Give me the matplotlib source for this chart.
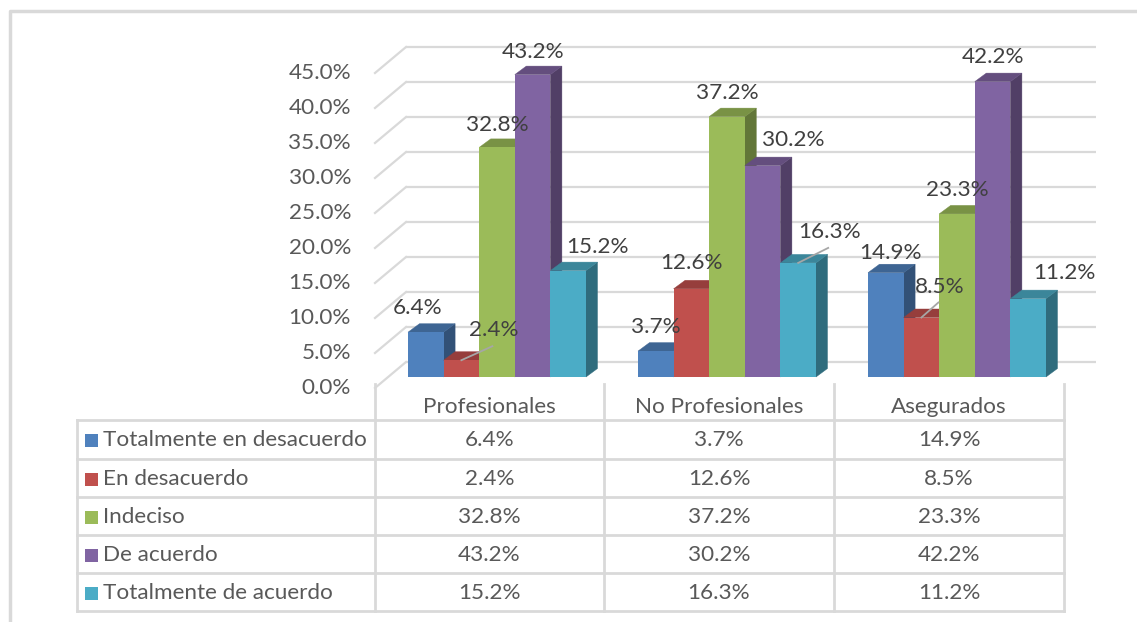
import matplotlib
matplotlib.use("Agg")
import matplotlib.pyplot as plt
from matplotlib.patches import Polygon, Rectangle
import numpy as np

# ---------------- data ----------------
categories = ["Profesionales", "No Profesionales", "Asegurados"]
series_names = ["Totalmente en desacuerdo", "En desacuerdo", "Indeciso",
                "De acuerdo", "Totalmente de acuerdo"]
tot_desacuerdo = [6.4, 3.7, 14.9]
en_desacuerdo = [2.4, 12.6, 8.5]
indeciso = [32.8, 37.2, 23.3]
de_acuerdo = [43.2, 30.2, 42.2]
tot_acuerdo = [15.2, 16.3, 11.2]
y_ticks = [0, 5, 10, 15, 20, 25, 30, 35, 40, 45]

series_values = [tot_desacuerdo, en_desacuerdo, indeciso, de_acuerdo, tot_acuerdo]

# ---------------- style ----------------
colors = ["#4F81BD", "#C0504D", "#9BBB59", "#8064A2", "#4BACC6"]
FONT = ["Lato", "DejaVu Sans"]
plt.rcParams["font.family"] = FONT
FS = 16.2
AX_COL = "#595959"
LBL_COL = "#404040"
GRID_COL = "#D9D9D9"

W, H = 1137, 622
fig = plt.figure(figsize=(W / 100, H / 100), dpi=100)

# main axes geometry in pixels
PX_X0 = 375.0      # front floor left (x=0)
PX_PER_X = 230.0   # pixels per category
PX_Y0 = 377.0      # bar front plane baseline (y=0)
PX_PER_Y = 7.0     # pixels per percent
ax_l, ax_r, ax_t, ax_b = 300, 1110, 30, 392
ax = fig.add_axes([ax_l / W, 1 - ax_b / H, (ax_r - ax_l) / W, (ax_b - ax_t) / H])
ax.set_xlim((ax_l - PX_X0) / PX_PER_X, (ax_r - PX_X0) / PX_PER_X)
ax.set_ylim((PX_Y0 - ax_b) / PX_PER_Y, (PX_Y0 - ax_t) / PX_PER_Y)
ax.axis("off")

PXX = 1 / PX_PER_X
PXY = 1 / PX_PER_Y

y_ff = -11 * PXY          # front floor level
dx_w, dy_w = 31 * PXX, 26 * PXY   # wall depth
dxb, dyb = 11.5 * PXX, 8.5 * PXY  # bar depth
bar_w = 35.6 * PXX
bar_shift = 7 * PXX
ncat = len(categories)
nser = len(series_values)

# gridlines on back wall + left wall diagonals
for v in y_ticks:
    ax.plot([dx_w, ncat + dx_w], [v + y_ff + dy_w] * 2, color=GRID_COL, lw=1.6,
            zorder=1, solid_capstyle="butt", clip_on=False)
    ax.plot([0, dx_w], [v + y_ff, v + y_ff + dy_w], color=GRID_COL, lw=1.6,
            zorder=1, clip_on=False)
    ax.text(-24 * PXX, v + y_ff, f"{v:.1f}%", ha="right", va="center",
            fontsize=FS, color=AX_COL)


def shade(c, f):
    r, g, b = matplotlib.colors.to_rgb(c)
    return (r * f, g * f, b * f)


x_idx = np.arange(ncat)
z = 3
for s, vals in enumerate(series_values):
    centers = x_idx + 0.5 + bar_shift + (s - (nser - 1) / 2) * bar_w
    bars = ax.bar(centers, vals, width=bar_w, color=colors[s], zorder=z + 2,
                  linewidth=0)
    for b in bars:
        x0 = b.get_x()
        x1 = x0 + b.get_width()
        h = b.get_height()
        top = Polygon([(x0, h), (x1, h), (x1 + dxb, h + dyb), (x0 + dxb, h + dyb)],
                      closed=True, facecolor=shade(colors[s], 0.78),
                      edgecolor=shade(colors[s], 0.78), lw=0.3, zorder=z + 1)
        side = Polygon([(x1, 0), (x1 + dxb, dyb), (x1 + dxb, h + dyb), (x1, h)],
                       closed=True, facecolor=shade(colors[s], 0.63),
                       edgecolor=shade(colors[s], 0.63), lw=0.3, zorder=z)
        ax.add_patch(top)
        ax.add_patch(side)
    z += 3

# data labels: offsets (px) from bar front-top-center
label_off = [
    [(-8, -24), (0, -24), (5, -20)],
    [(32, -30), (0, -26), (18, -31)],
    [(0, -22), (0, -24), (0, -24)],
    [(0, -23), (31, -26), (0, -25)],
    [(29, -24), (31, -31), (36, -26)],
]
leaders = {(1, 0), (4, 1), (1, 2)}
for s, vals in enumerate(series_values):
    centers = x_idx + 0.5 + bar_shift + (s - (nser - 1) / 2) * bar_w
    for c in range(ncat):
        ox, oy = label_off[s][c]
        lx = centers[c] + ox * PXX
        ly = vals[c] - oy * PXY
        ax.text(lx, ly, f"{vals[c]:.1f}%", ha="center", va="center",
                fontsize=FS, color=LBL_COL, zorder=40)
        if (s, c) in leaders:
            ax.plot([centers[c], lx - 1 * PXX], [vals[c], ly - 16 * PXY],
                    color="#A6A6A6", lw=1.3, zorder=39)

# ---------------- overlay (pixel coords): frame and data table ----------------
ov = fig.add_axes([0, 0, 1, 1], facecolor="none")
ov.set_xlim(0, W)
ov.set_ylim(H, 0)
ov.axis("off")

# outer chart frame
ov.plot([10, 10, W + 5], [H + 5, 11, 11], color=GRID_COL, lw=2.5)

row_lines = [420, 459, 497, 535, 573, 611]
col_lines = [375, 604, 834, 1064]
leg_left = 77
header_top = 384
for yy in row_lines:
    ov.plot([leg_left, col_lines[-1]], [yy, yy], color=GRID_COL, lw=2)
ov.plot([leg_left, leg_left], [row_lines[0], row_lines[-1]], color=GRID_COL, lw=2)
for xx in col_lines:
    ov.plot([xx, xx], [header_top, row_lines[-1]], color=GRID_COL, lw=2)

for c, name in enumerate(categories):
    cx = (col_lines[c] + col_lines[c + 1]) / 2
    ov.text(cx, 407, name, ha="center", va="center", fontsize=FS, color=AX_COL)

for s, vals in enumerate(series_values):
    cy = (row_lines[s] + row_lines[s + 1]) / 2 + 1
    ov.add_patch(Rectangle((85, cy - 6.5), 13, 13, facecolor=colors[s], lw=0))
    ov.text(103, cy, series_names[s], ha="left", va="center", fontsize=FS,
            color=AX_COL)
    for c in range(ncat):
        cx = (col_lines[c] + col_lines[c + 1]) / 2
        ov.text(cx, cy, f"{vals[c]:.1f}%", ha="center", va="center",
                fontsize=FS, color=AX_COL)

fig.savefig("out.png", dpi=100)
